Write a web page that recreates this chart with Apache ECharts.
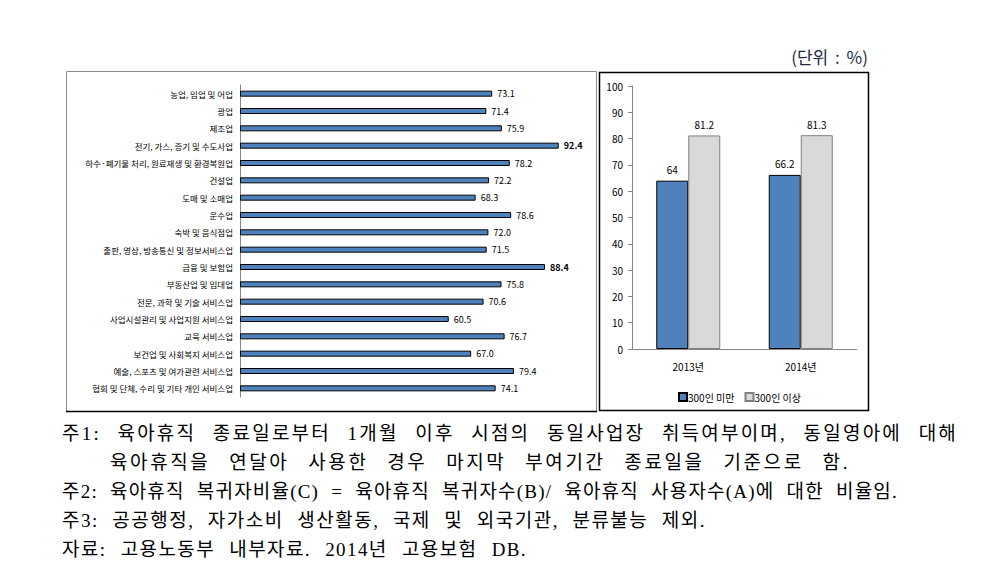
<!DOCTYPE html>
<html>
<head>
<meta charset="utf-8">
<script src="https://cdn.jsdelivr.net/npm/echarts@6/dist/echarts.min.js"></script>
<style>
    html, body { margin: 0; padding: 0; background: #fff; }
    #wrap { position: relative; width: 986px; height: 573px; overflow: hidden; }
    #chart { position: absolute; left: 0; top: 0; width: 986px; height: 573px; }
    .unit { position: absolute; right: 118px; top: 44px; font: 17px 'Noto Sans CJK KR', sans-serif; color: #1f2a44; word-spacing: 3px; }
    .notes { position: absolute; left: 62px; top: 419px; font-family: 'Liberation Serif', 'Noto Sans CJK KR', serif; font-size: 19px; color: #000; line-height: 29px; }
    /* 한글 문서처럼 줄 끝을 맞춤 */
    .notes div { white-space: nowrap; letter-spacing: 1.2px; text-align: justify; text-align-last: justify; text-justify: inter-word; }
    .notes .ind { margin-left: 48px; }
</style>
</head>
<body>
<div id="wrap">
    <div id="chart"></div>
    <div class="unit">(단위 : %)</div>
    <div class="notes">
        <div style="width: 896px; letter-spacing: 2.2px">주1: 육아휴직 종료일로부터 1개월 이후 시점의 동일사업장 취득여부이며, 동일영아에 대해</div>
        <div class="ind" style="width: 740px; letter-spacing: 2.6px">육아휴직을 연달아 사용한 경우 마지막 부여기간 종료일을 기준으로 함.</div>
        <div style="width: 836px">주2: 육아휴직 복귀자비율(C) = 육아휴직 복귀자수(B)/ 육아휴직 사용자수(A)에 대한 비율임.</div>
        <div style="width: 644px; letter-spacing: 1.5px">주3: 공공행정, 자가소비 생산활동, 국제 및 외국기관, 분류불능 제외.</div>
        <div style="width: 465px; letter-spacing: 1.4px">자료: 고용노동부 내부자료. 2014년 고용보험 DB.</div>
    </div>
</div>
<script>
    // 산업별 육아휴직 복귀자비율
    const industries = [
        '농업, 임업 및 어업', '광업', '제조업', '전기, 가스, 증기 및 수도사업',
        '하수·폐기물 처리, 원료재생 및 환경복원업', '건설업', '도매 및 소매업', '운수업',
        '숙박 및 음식점업', '출판, 영상, 방송통신 및 정보서비스업', '금융 및 보험업',
        '부동산업 및 임대업', '전문, 과학 및 기술 서비스업', '사업시설관리 및 사업지원 서비스업',
        '교육 서비스업', '보건업 및 사회복지 서비스업', '예술, 스포츠 및 여가관련 서비스업',
        '협회 및 단체, 수리 및 기타 개인 서비스업'
    ];
    const industryRates = [73.1, 71.4, 75.9, 92.4, 78.2, 72.2, 68.3, 78.6, 72.0, 71.5, 88.4, 75.8, 70.6, 60.5, 76.7, 67.0, 79.4, 74.1];
    const boldLabels = [92.4, 88.4];

    // 사업장 규모별
    const years = ['2013년', '2014년'];
    const under300 = [64, 66.2];
    const over300 = [81.2, 81.3];
    const sizeNames = ['300인 미만', '300인 이상'];

    const FONT = "'Noto Sans CJK KR', sans-serif";
    const AXIS_GRAY = '#868686';

    const chart = echarts.init(document.getElementById('chart'), null, { renderer: 'svg' });

    chart.setOption({
        animation: false,
        textStyle: { fontFamily: FONT },
        graphic: [
            { type: 'rect', shape: { x: 66.5, y: 71.5, width: 530, height: 340 }, style: { fill: 'none', stroke: '#8c8c8c', lineWidth: 1 }, z: -1 },
            { type: 'line', shape: { x1: 66, y1: 411.5, x2: 597, y2: 411.5 }, style: { stroke: '#000', lineWidth: 1.5 }, z: -1 },
            { type: 'rect', shape: { x: 599.5, y: 72.5, width: 269, height: 338 }, style: { fill: 'none', stroke: '#000', lineWidth: 1.5 }, z: -1 }
        ],
        grid: [
            { left: 240, top: 85, width: 345, height: 312 },
            { left: 632, top: 86, width: 225, height: 263 }
        ],
        legend: {
            data: sizeNames,
            left: 673, top: 387,
            itemWidth: 8, itemHeight: 8, itemGap: 10,
            icon: 'rect',
            textStyle: { fontSize: 10, color: '#000', fontFamily: FONT, padding: [0, 0, 0, -4] }
        },
        xAxis: [
            { gridIndex: 0, type: 'value', min: 0, max: 100, show: false },
            {
                gridIndex: 1, type: 'category', data: years,
                axisLine: { lineStyle: { color: AXIS_GRAY } },
                axisTick: { length: 4, lineStyle: { color: AXIS_GRAY } },
                axisLabel: { fontSize: 10, color: '#000', margin: 12 }
            }
        ],
        yAxis: [
            {
                gridIndex: 0, type: 'category', data: industries, inverse: true,
                axisLine: { lineStyle: { color: AXIS_GRAY } },
                axisTick: { length: 4, lineStyle: { color: AXIS_GRAY } },
                axisLabel: { fontSize: 8.5, color: '#000', margin: 7 }
            },
            {
                gridIndex: 1, type: 'value', min: 0, max: 100, interval: 10,
                axisLine: { show: true, lineStyle: { color: AXIS_GRAY } },
                axisTick: { show: true, length: 4, lineStyle: { color: AXIS_GRAY } },
                splitLine: { show: false },
                axisLabel: { fontSize: 10, color: '#000', margin: 9 }
            }
        ],
        series: [
            {
                type: 'bar', xAxisIndex: 0, yAxisIndex: 0,
                data: industryRates.map(v => ({
                    value: v,
                    label: { fontWeight: boldLabels.includes(v) ? 'bold' : 'normal' }
                })),
                barWidth: 6,
                itemStyle: { color: '#4F81BD', borderColor: '#000', borderWidth: 1 },
                label: {
                    show: true, position: 'right', distance: 5,
                    fontSize: 9, color: '#000',
                    formatter: p => p.value.toFixed(1)
                }
            },
            {
                name: sizeNames[0], type: 'bar', xAxisIndex: 1, yAxisIndex: 1,
                data: under300, barWidth: 32, barGap: '0%',
                itemStyle: { color: '#4F81BD', borderColor: '#000', borderWidth: 1 },
                label: { show: true, position: 'top', distance: 6, fontSize: 10, color: '#000' }
            },
            {
                name: sizeNames[1], type: 'bar', xAxisIndex: 1, yAxisIndex: 1,
                data: over300, barWidth: 32, barGap: '0%',
                itemStyle: { color: '#D9D9D9', borderColor: '#7f7f7f', borderWidth: 1 },
                label: { show: true, position: 'top', distance: 6, fontSize: 10, color: '#000' }
            }
        ]
    });
</script>
</body>
</html>
